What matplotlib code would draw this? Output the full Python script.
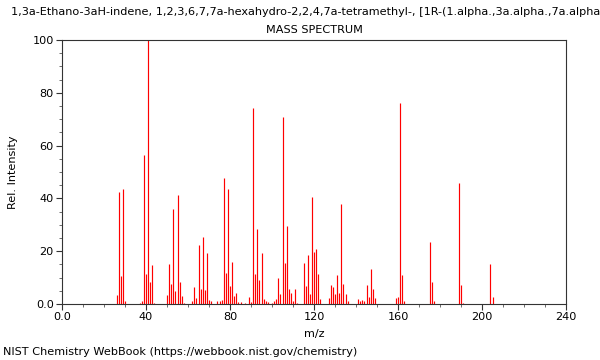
import matplotlib
matplotlib.use("Agg")
import matplotlib.pyplot as plt
from matplotlib.ticker import MultipleLocator, FuncFormatter

mz = [26, 27, 28, 29, 30, 37, 38, 39, 40, 41, 42, 43, 44,
      50, 51, 52, 53, 54, 55, 56, 57, 58,
      62, 63, 64, 65, 66, 67, 68, 69, 70, 71,
      74, 75, 76, 77, 78, 79, 80, 81, 82, 83, 84, 85, 87,
      89, 90, 91, 92, 93, 94, 95, 96, 97, 98, 100,
      101, 102, 103, 104, 105, 106, 107, 108, 109, 110, 111, 112,
      115, 116, 117, 118, 119, 120, 121, 122, 123,
      127, 128, 129, 130, 131, 132, 133, 134, 135, 136,
      141, 142, 143, 144, 145, 146, 147, 148, 149,
      159, 160, 161, 162, 163,
      175, 176, 177, 189, 190, 191, 204, 205]
intensity = [3.4, 42.5, 10.7, 43.4, 1.0, 0.5, 1.0, 56.4, 11.4, 100.0, 8.2, 14.8, 0.5,
             3.4, 15.2, 7.6, 36.0, 5.0, 41.3, 8.2, 3.2, 0.5,
             1.0, 6.3, 2.3, 22.3, 5.6, 25.5, 5.3, 19.2, 1.5, 1.0,
             1.0, 1.3, 1.5, 47.8, 11.9, 43.6, 6.8, 15.9, 3.0, 4.3, 0.7, 0.7, 0.5,
             2.5, 0.8, 74.1, 11.4, 28.4, 9.1, 19.4, 2.0, 1.0, 0.7, 0.5,
             1.0, 2.0, 9.7, 3.7, 70.7, 15.4, 29.5, 5.6, 4.0, 1.3, 5.6, 0.5,
             15.4, 6.8, 18.4, 3.7, 40.4, 19.7, 20.8, 11.4, 2.0,
             2.3, 7.1, 6.6, 3.7, 10.9, 4.0, 38.0, 7.6, 3.7, 1.3,
             2.0, 1.0, 1.5, 1.3, 7.1, 2.5, 13.4, 5.6, 2.3,
             2.3, 2.5, 76.0, 10.9, 1.0,
             23.5, 8.2, 1.0, 45.7, 7.1, 0.5, 15.3, 2.5]

title = "1,3a-Ethano-3aH-indene, 1,2,3,6,7,7a-hexahydro-2,2,4,7a-tetramethyl-, [1R-(1.alpha.,3a.alpha.,7a.alpha.)]-"
subtitle = "MASS SPECTRUM"
xlabel = "m/z"
ylabel = "Rel. Intensity"
footer = "NIST Chemistry WebBook (https://webbook.nist.gov/chemistry)"

fs = 8.1
fig = plt.figure(figsize=(6, 3.6), dpi=100)
ax = fig.add_axes([62/600, 1 - 304/360, (566-62)/600, (304-40)/360])
ax.vlines(mz, 0, intensity, colors="#ff0000", linewidth=0.85)
ax.set_xlim(0, 240)
ax.set_ylim(0, 100)
ax.xaxis.set_major_locator(MultipleLocator(40))
ax.xaxis.set_minor_locator(MultipleLocator(10))
ax.yaxis.set_major_locator(MultipleLocator(20))
ax.yaxis.set_minor_locator(MultipleLocator(5))
fmt = FuncFormatter(lambda v, p: "0.0" if v == 0 else "%d" % v)
ax.xaxis.set_major_formatter(fmt)
ax.yaxis.set_major_formatter(fmt)
ax.tick_params(which="major", length=4, width=0.8, labelsize=fs, color="#333333", pad=2)
ax.tick_params(which="minor", length=2.5, width=0.6, color="#555555")
for s in ax.spines.values():
    s.set_linewidth(0.8)
    s.set_color("#333333")
ax.set_xlabel(xlabel, fontsize=fs, labelpad=5)
ax.set_ylabel(ylabel, fontsize=fs, labelpad=10)
fig.text(314/600, 1 - 12/360, title, ha="center", va="center", fontsize=fs)
fig.text(314/600, 1 - 30/360, subtitle, ha="center", va="center", fontsize=fs)
fig.text(3/600, 1 - 352/360, footer, ha="left", va="center", fontsize=fs)
fig.savefig("out.png", dpi=100)
